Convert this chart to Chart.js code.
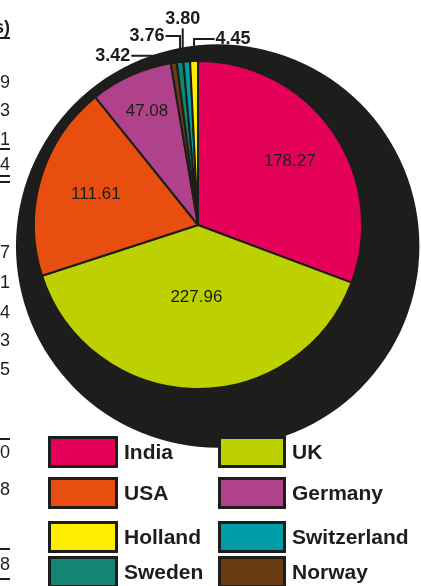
<!DOCTYPE html>
<html>
<head>
<meta charset="utf-8">
<script src="https://cdn.jsdelivr.net/npm/chart.js@4.4.1/dist/chart.umd.min.js"></script>
<style>
    body { margin: 0; width: 421px; height: 586px; overflow: hidden; background: #fff; position: relative;
           font-family: "Liberation Sans", Arial, sans-serif; color: #1d1d1b; }
    #pie { position: absolute; left: 0; top: 0; }
    #legend { position: absolute; left: 48px; top: 436px; display: grid;
              grid-template-columns: 170px 200px; grid-template-rows: 41px 44px 35px 32px; }
    .item { display: flex; align-items: flex-start; }
    .box { width: 70px; height: 32px; box-sizing: border-box; border: 3px solid #1d1d1b; flex: none; }
    .item:nth-child(even) .box { width: 68px; }
    .lbl { font-weight: bold; font-size: 21px; line-height: 32px; margin-left: 6px; white-space: nowrap; }
    .edge { position: absolute; left: -60px; width: 70px; text-align: right; font-size: 18px; line-height: 18px; }
    .rule { position: absolute; left: 0; width: 10px; height: 2px; background: #1d1d1b; }
</style>
</head>
<body>
<canvas id="pie" width="421" height="460"></canvas>
<div id="legend"></div>
<div id="edge"></div>
<script>
// slices, clockwise from 12 o'clock
const countries = ['India', 'UK', 'USA', 'Germany', 'Norway', 'Sweden', 'Switzerland', 'Holland'];
const values = [178.27, 227.96, 111.61, 47.08, 3.42, 3.76, 3.80, 4.45];
const colours = ['#e5005a', '#bdd000', '#e84e0f', '#b0428c', '#683b11', '#138575', '#009ca7', '#ffed00'];

// legend reads row by row, two columns
const legendOrder = ['India', 'UK', 'USA', 'Germany', 'Holland', 'Switzerland', 'Sweden', 'Norway'];

// cut-off text of the neighbouring table at the left edge
const edgeText = ['s)', '9', '3', '1', '4', '7', '1', '4', '3', '5', '0', '8', '8'];

const dark = '#1d1d1b';

// label placement (style only)
const insideRadius = [0.68, 0.44, 0.65, 0.76];          // fraction of radius for big slices
const outsideOffset = [[-61, -7], [-33, -26], [-4, -42], [39, -22]]; // text centre from slice tip

const shadowPlugin = {
    id: 'shadow',
    beforeDatasetsDraw(chart) {
        const arc = chart.getDatasetMeta(0).data[0];
        const r = arc.outerRadius;
        const ctx = chart.ctx;
        ctx.save();
        ctx.fillStyle = dark;
        ctx.beginPath();
        ctx.arc(arc.x + r * 0.12, arc.y + r * 0.128, r * 1.23, 0, Math.PI * 2);
        ctx.fill();
        ctx.restore();
    }
};

const labelPlugin = {
    id: 'sliceLabels',
    afterDatasetsDraw(chart) {
        const ctx = chart.ctx;
        const arcs = chart.getDatasetMeta(0).data;
        ctx.save();
        ctx.fillStyle = dark;
        ctx.strokeStyle = dark;
        ctx.textAlign = 'center';
        ctx.textBaseline = 'middle';
        arcs.forEach((arc, i) => {
            const mid = (arc.startAngle + arc.endAngle) / 2;
            const r = arc.outerRadius;
            const text = values[i].toFixed(2);
            if (i < insideRadius.length) {
                ctx.font = '17px "Liberation Sans"';
                ctx.fillText(text, arc.x + Math.cos(mid) * r * insideRadius[i], arc.y + Math.sin(mid) * r * insideRadius[i]);
                return;
            }
            // small slices: label outside with a leader line
            const tipX = arc.x + Math.cos(mid) * r;
            const tipY = arc.y + Math.sin(mid) * r;
            const [dx, dy] = outsideOffset[i - insideRadius.length];
            const tx = tipX + dx, ty = tipY + dy;
            ctx.font = 'bold 18px "Liberation Sans"';
            const w = ctx.measureText(text).width;
            ctx.fillText(text, tx, ty);
            ctx.lineWidth = 2;
            ctx.beginPath();
            if (Math.abs(dx) > 20) {
                const sx = dx < 0 ? tx + w / 2 + 1 : tx - w / 2 - 1;
                ctx.moveTo(sx, ty);
                ctx.lineTo(tipX, ty);
                ctx.lineTo(tipX, tipY);
            } else {
                ctx.moveTo(tx, ty + 9);
                ctx.lineTo(tx, tipY);
            }
            ctx.stroke();
        });
        ctx.restore();
    }
};

new Chart('pie', {
    type: 'pie',
    data: {
        labels: countries,
        datasets: [{
            data: values,
            backgroundColor: colours,
            borderColor: dark,
            borderWidth: 2
        }]
    },
    options: {
        responsive: false,
        animation: false,
        layout: { padding: { top: 60, bottom: 70, left: 33, right: 58 } },
        plugins: {
            legend: { display: false },
            tooltip: { enabled: false }
        }
    },
    plugins: [shadowPlugin, labelPlugin]
});

// html legend
const legend = document.getElementById('legend');
legendOrder.forEach(name => {
    const item = document.createElement('div');
    item.className = 'item';
    const box = document.createElement('div');
    box.className = 'box';
    box.style.background = colours[countries.indexOf(name)];
    const lbl = document.createElement('span');
    lbl.className = 'lbl';
    lbl.textContent = name;
    item.appendChild(box);
    item.appendChild(lbl);
    legend.appendChild(item);
});

// left edge fragments
const edgeTops = [18, 73, 101, 130, 155, 243, 273, 303, 331, 360, 443, 480, 555];
const ruleTops = [37, 148, 175, 181, 438, 548, 578];
const edge = document.getElementById('edge');
edgeText.forEach((t, i) => {
    const d = document.createElement('div');
    d.className = 'edge';
    d.style.top = edgeTops[i] + 'px';
    if (i === 0) d.style.fontWeight = 'bold';
    d.textContent = t;
    edge.appendChild(d);
});
ruleTops.forEach(y => {
    const d = document.createElement('div');
    d.className = 'rule';
    d.style.top = y + 'px';
    edge.appendChild(d);
});
</script>
</body>
</html>
